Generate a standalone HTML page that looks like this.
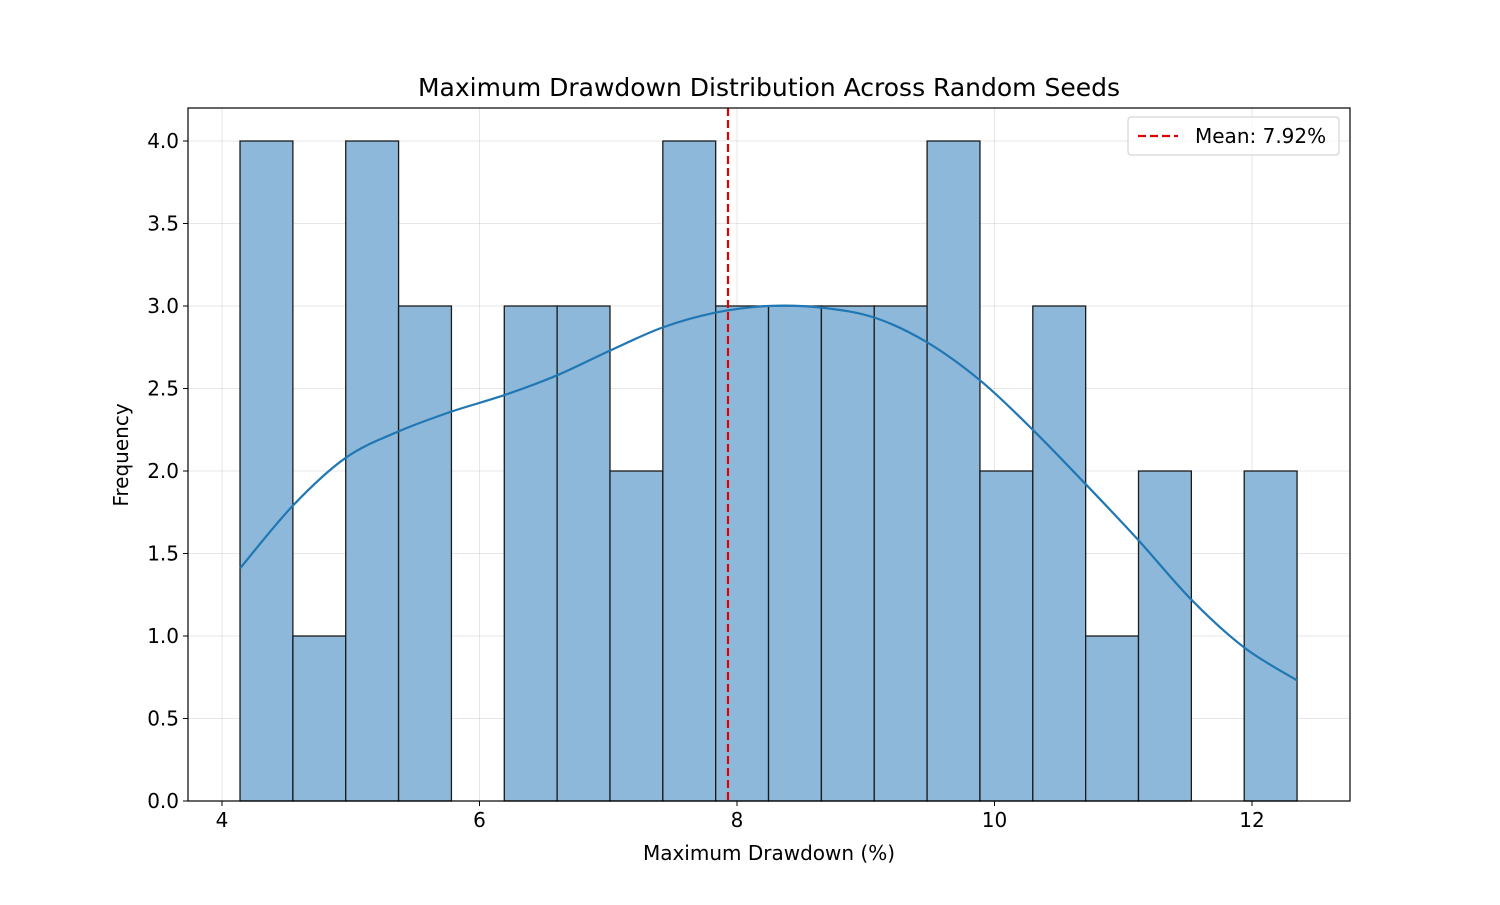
<!DOCTYPE html>
<html><head><meta charset="utf-8"><style>
body{margin:0;background:#fff;font-family:"Liberation Sans","DejaVu Sans",sans-serif}
svg text{font-family:"DejaVu Sans","Liberation Sans",sans-serif}
</style></head><body>
<svg id="c" width="1500" height="900" xmlns="http://www.w3.org/2000/svg"></svg>
<script>
const counts=[4,1,4,3,0,3,3,2,4,3,3,3,3,4,2,3,1,2,0,2];
const binMin=4.14, binMax=12.35;
const kdeY=[1.41,1.79,2.08,2.24,2.36,2.46,2.58,2.73,2.87,2.96,3.00,2.99,2.93,2.78,2.55,2.25,1.92,1.58,1.22,0.93,0.73];
const xTicks=[4,6,8,10,12];
const yTicks=[0,0.5,1.0,1.5,2.0,2.5,3.0,3.5,4.0];
const meanVal=7.93, meanLabel="Mean: 7.92%";
const L=188,R=1350,T=108,B=801;
const X=v=>222+(v-4)*128.75;
const Y=v=>801-v*165;
const s=document.getElementById('c');
const NS="http://www.w3.org/2000/svg";
function add(tag,at,parent){const e=document.createElementNS(NS,tag);for(const k in at)e.setAttribute(k,at[k]);(parent||s).appendChild(e);return e;}
xTicks.forEach(t=>{const g=add('line',{x1:X(t),x2:X(t),y1:T,y2:B,stroke:'#b0b0b0','stroke-opacity':0.3,'stroke-width':1});

});
yTicks.forEach(t=>{const g=add('line',{x1:L,x2:R,y1:Y(t),y2:Y(t),stroke:'#b0b0b0','stroke-opacity':0.3,'stroke-width':1});

});
const w=(binMax-binMin)/counts.length;
counts.forEach((c,i)=>{if(c<=0)return;const x0=X(binMin+i*w),x1=X(binMin+(i+1)*w);
const r=add('rect',{x:x0,y:Y(c),width:x1-x0,height:Y(0)-Y(c),fill:'#8eb8d9',stroke:'#1a1a1a','stroke-width':1.3});

});
const kstep=(binMax-binMin)/(kdeY.length-1);
const pts=kdeY.map((v,i)=>[X(binMin+i*kstep),Y(v)]);
let d='M'+pts[0][0].toFixed(1)+','+pts[0][1].toFixed(1);
for(let i=0;i<pts.length-1;i++){const p0=pts[Math.max(0,i-1)],p1=pts[i],p2=pts[i+1],p3=pts[Math.min(pts.length-1,i+2)];
const c1=[p1[0]+(p2[0]-p0[0])/6,p1[1]+(p2[1]-p0[1])/6],c2=[p2[0]-(p3[0]-p1[0])/6,p2[1]-(p3[1]-p1[1])/6];
d+=' C'+c1[0].toFixed(1)+','+c1[1].toFixed(1)+' '+c2[0].toFixed(1)+','+c2[1].toFixed(1)+' '+p2[0].toFixed(1)+','+p2[1].toFixed(1);}
const p=add('path',{d:d,fill:'none',stroke:'#1f77b4','stroke-width':2.2,'stroke-linejoin':'round'});


const m=add('line',{x1:X(meanVal),x2:X(meanVal),y1:T,y2:B,stroke:'#e00000','stroke-width':2.2,'stroke-dasharray':'8,4'});


const f=add('rect',{x:L,y:T,width:R-L,height:B-T,fill:'none',stroke:'#000','stroke-width':1.2});


xTicks.forEach(t=>{add('line',{x1:X(t),x2:X(t),y1:B,y2:B+5,stroke:'#000'});
const tx=add('text',{x:X(t),y:B+26,'font-size':20,'text-anchor':'middle',fill:'#000'});tx.textContent=t;

});
yTicks.forEach(t=>{add('line',{x1:L-5,x2:L,y1:Y(t),y2:Y(t),stroke:'#000'});
const tx=add('text',{x:L-9,y:Y(t)+7,'font-size':20,'text-anchor':'end',fill:'#000'});tx.textContent=t.toFixed(1);

});
const ti=add('text',{x:769,y:96,'font-size':25,'text-anchor':'middle'});ti.textContent='Maximum Drawdown Distribution Across Random Seeds';


const xt=add('text',{x:769,y:860,'font-size':20,'text-anchor':'middle'});xt.textContent='Maximum Drawdown (%)';


const yt=add('text',{x:0,y:0,'font-size':20,'text-anchor':'middle',transform:'translate(128,455) rotate(-90)'});yt.textContent='Frequency';


const lg=add('g',{});


add('rect',{x:1128,y:117,width:211,height:38,rx:3,fill:'#fff','fill-opacity':0.8,stroke:'#ccc'},lg);
add('line',{x1:1138,x2:1178,y1:136,y2:136,stroke:'#e00000','stroke-width':2.2,'stroke-dasharray':'8,4'},lg);
const lt=add('text',{x:1195,y:143,'font-size':20},lg);lt.textContent=meanLabel;


</script>
</body></html>
